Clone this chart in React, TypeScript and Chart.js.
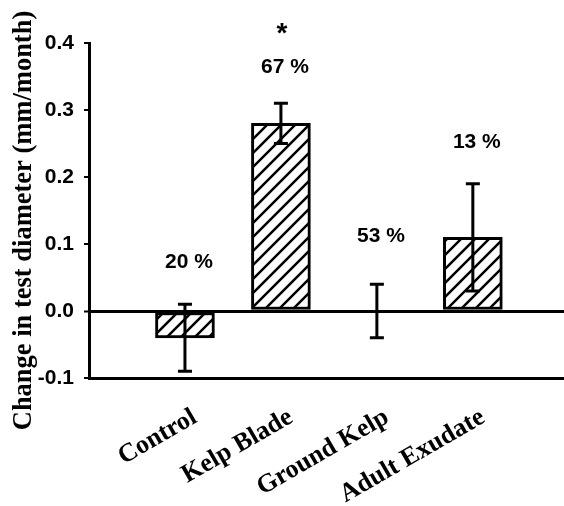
import React, { useEffect, useRef } from "react";
import { Chart, registerables } from "chart.js";

Chart.register(...registerables);

const categories = ["Control", "Kelp Blade", "Ground Kelp", "Adult Exudate"];
const positions = [1, 2, 3, 4];
const means = [-0.04, 0.28, 0, 0.11];
const errHigh = [0.01, 0.31, 0.04, 0.19];
const errLow = [-0.09, 0.25, -0.04, 0.03];
const percentLabels = ["20 %", "67 %", "53 %", "13 %"];
const percentY = [0.073, 0.364, 0.112, 0.252];
const asteriskIndex = 1;
const asteriskY = 0.413;
const yTicks = [-0.1, 0, 0.1, 0.2, 0.3, 0.4];
const yTitle = "Change in test diameter (mm/month)";

function makeHatch(): CanvasPattern | string {
  const s = 14;
  const c = document.createElement("canvas");
  c.width = s;
  c.height = s;
  const g = c.getContext("2d");
  if (!g) return "#fff";
  g.fillStyle = "#fff";
  g.fillRect(0, 0, s, s);
  g.strokeStyle = "#000";
  g.lineWidth = 2.5;
  g.beginPath();
  g.moveTo(-2, s + 2);
  g.lineTo(s + 2, -2);
  g.moveTo(-2, 2);
  g.lineTo(2, -2);
  g.moveTo(s - 2, s + 2);
  g.lineTo(s + 2, s - 2);
  g.stroke();
  const p = g.createPattern(c, "repeat");
  return p || "#fff";
}

const overlayPlugin = {
  id: "overlay",
  afterDatasetsDraw(chart: any) {
    const ctx = chart.ctx;
    const xs = chart.scales.x;
    const ys = chart.scales.y;
    ctx.save();
    ctx.strokeStyle = "#000";
    ctx.lineWidth = 3;
    ctx.lineCap = "butt";
    positions.forEach((p, i) => {
      const x = xs.getPixelForValue(p);
      const y1 = ys.getPixelForValue(errHigh[i]);
      const y2 = ys.getPixelForValue(errLow[i]);
      ctx.beginPath();
      ctx.moveTo(x, y1);
      ctx.lineTo(x, y2);
      ctx.moveTo(x - 7, y1);
      ctx.lineTo(x + 7, y1);
      ctx.moveTo(x - 7, y2);
      ctx.lineTo(x + 7, y2);
      ctx.stroke();
    });
    ctx.fillStyle = "#000";
    ctx.textAlign = "center";
    ctx.textBaseline = "middle";
    ctx.font = "bold 21px 'Liberation Sans', Arial, sans-serif";
    positions.forEach((p, i) => {
      const x = xs.getPixelForValue(p) + 4;
      const y = ys.getPixelForValue(percentY[i]);
      ctx.fillText(percentLabels[i], x, y);
    });
    ctx.font = "bold 28px 'Liberation Sans', Arial, sans-serif";
    ctx.fillText(
      "*",
      xs.getPixelForValue(positions[asteriskIndex]) + 1,
      ys.getPixelForValue(asteriskY)
    );
    // y axis title
    const area = chart.chartArea;
    ctx.font = "bold 26.5px 'Liberation Serif', 'Times New Roman', serif";
    ctx.translate(24, (area.top + area.bottom) / 2 + 10);
    ctx.rotate(-Math.PI / 2);
    ctx.fillText(yTitle, 0, 0);
    ctx.restore();
  },
};

export default function App() {
  const ref = useRef<HTMLCanvasElement>(null);
  useEffect(() => {
    if (!ref.current) return;
    const hatch = makeHatch();
    const chart = new Chart(ref.current, {
      type: "bar",
      data: {
        datasets: [
          {
            data: positions.map((p, i) => ({ x: p, y: means[i] })),
            backgroundColor: hatch as any,
            borderColor: "#000",
            borderWidth: 3,
            borderSkipped: false,
            barThickness: 59,
          },
        ],
      },
      options: {
        responsive: false,
        animation: false,
        events: [],
        layout: { padding: { top: 43, right: 0, left: 0, bottom: 0 } },
        plugins: {
          legend: { display: false },
          tooltip: { enabled: false },
        },
        scales: {
          x: {
            type: "linear",
            min: 0,
            max: 4.95,
            offset: false,
            afterBuildTicks: (scale: any) => {
              scale.ticks = positions.map((v) => ({ value: v }));
            },
            afterFit: (scale: any) => {
              scale.height = 128;
            },
            border: { display: true, color: "#000", width: 3 },
            grid: { display: false, drawTicks: false },
            ticks: {
              autoSkip: false,
              maxRotation: 30,
              minRotation: 30,
              padding: 24,
              labelOffset: 10,
              color: "#000",
              font: { family: "'Liberation Serif', 'Times New Roman', serif", size: 26, weight: "bold" },
              callback: (v: any) => categories[positions.indexOf(Number(v))] ?? "",
            },
          },
          y: {
            min: -0.1,
            max: 0.4,
            afterBuildTicks: (scale: any) => {
              scale.ticks = yTicks.map((v) => ({ value: v }));
            },
            afterFit: (scale: any) => {
              scale.width = 89;
            },
            border: { display: true, color: "#000", width: 3 },
            grid: {
              drawOnChartArea: true,
              drawTicks: true,
              tickLength: 5,
              tickColor: "#000",
              tickWidth: 2,
              color: (c: any) => (c.tick && c.tick.value === 0 ? "#000" : "rgba(0,0,0,0)"),
              lineWidth: (c: any) => (c.tick && c.tick.value === 0 ? 3 : 0),
            },
            ticks: {
              padding: 10,
              color: "#000",
              font: { family: "'Liberation Sans', Arial, sans-serif", size: 21, weight: "bold" },
              callback: (v: any) => Number(v).toFixed(1),
            },
            title: { display: false },
          },
        },
      },
      plugins: [overlayPlugin],
    } as any);
    return () => chart.destroy();
  }, []);
  return (
    <div style={{ position: "absolute", left: 0, top: 0, width: 564, height: 506, background: "#fff" }}>
      <canvas ref={ref} width={564} height={506} />
    </div>
  );
}
